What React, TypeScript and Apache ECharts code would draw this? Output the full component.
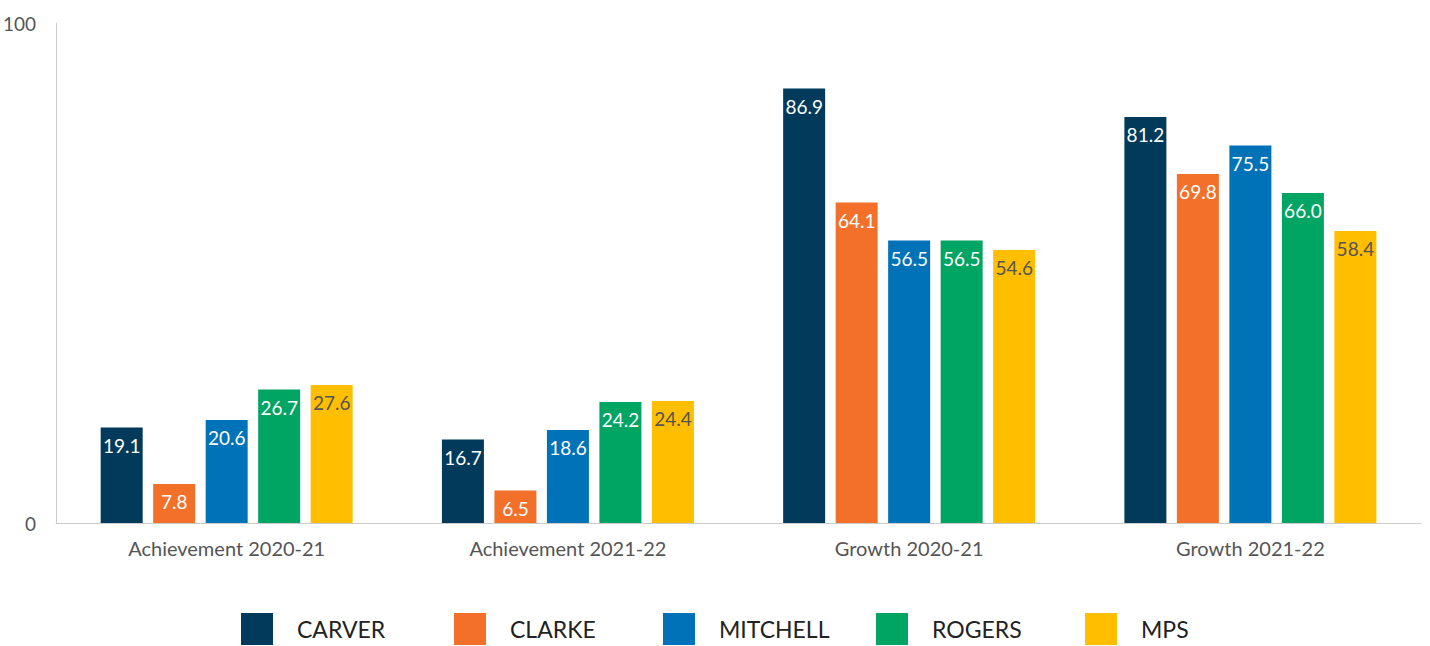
import React, { useEffect, useRef } from "react";
import * as echarts from "echarts";

const categories = ["Achievement 2020-21", "Achievement 2021-22", "Growth 2020-21", "Growth 2021-22"];
const seriesNames = ["CARVER", "CLARKE", "MITCHELL", "ROGERS", "MPS"];
const carver = [19.1, 16.7, 86.9, 81.2];
const clarke = [7.8, 6.5, 64.1, 69.8];
const mitchell = [20.6, 18.6, 56.5, 75.5];
const rogers = [26.7, 24.2, 56.5, 66.0];
const mps = [27.6, 24.4, 54.6, 58.4];
const seriesData = [carver, clarke, mitchell, rogers, mps];
const colors = ["#013A5B", "#F2702A", "#0072B8", "#00A463", "#FFBE00"];
const labelColors = ["#ffffff", "#ffffff", "#ffffff", "#ffffff", "#555555"];
const legendLefts = [241, 454, 663, 876, 1085];

const FONT = "Lato, 'Noto Sans', sans-serif";

export default function App() {
  const ref = useRef<HTMLDivElement>(null);
  useEffect(() => {
    if (!ref.current) return;
    const chart = echarts.init(ref.current, null, { renderer: "svg" });
    chart.setOption({
      animation: false,
      textStyle: { fontFamily: FONT },
      grid: { left: 53, right: 9, top: 23, bottom: 123, containLabel: false },
      legend: seriesNames.map((name, i) => ({
        left: legendLefts[i],
        top: 613,
        padding: 0,
        itemWidth: 32,
        itemHeight: 32,
        icon: "rect",
        data: [name],
        selectedMode: false,
        textStyle: {
          fontFamily: FONT,
          fontSize: 23,
          color: "#222222",
          padding: [0, 0, 0, 19],
        },
      })),
      xAxis: {
        type: "category",
        data: categories,
        axisLine: { lineStyle: { color: "#cccccc", width: 1 } },
        axisTick: { show: false },
        axisLabel: { color: "#555555", fontSize: 20, margin: 15, fontFamily: FONT },
      },
      yAxis: {
        type: "value",
        min: 0,
        max: 100,
        interval: 100,
        axisLine: { show: true, lineStyle: { color: "#cccccc", width: 1 } },
        axisTick: { show: false },
        splitLine: { show: false },
        axisLabel: { color: "#555555", fontSize: 19, margin: 20, fontFamily: FONT },
      },
      series: seriesNames.map((name, i) => ({
        name,
        type: "bar",
        data: seriesData[i],
        barWidth: 42,
        barGap: "25%",
        itemStyle: { color: colors[i] },
        label: {
          show: true,
          position: "insideTop",
          distance: 8,
          fontSize: 19,
          fontFamily: FONT,
          color: labelColors[i],
          formatter: (p: any) => Number(p.value).toFixed(1),
        },
      })),
    });
    return () => chart.dispose();
  }, []);
  return (
    <div
      ref={ref}
      style={{ position: "absolute", left: 0, top: 0, width: 1430, height: 646 }}
    />
  );
}
